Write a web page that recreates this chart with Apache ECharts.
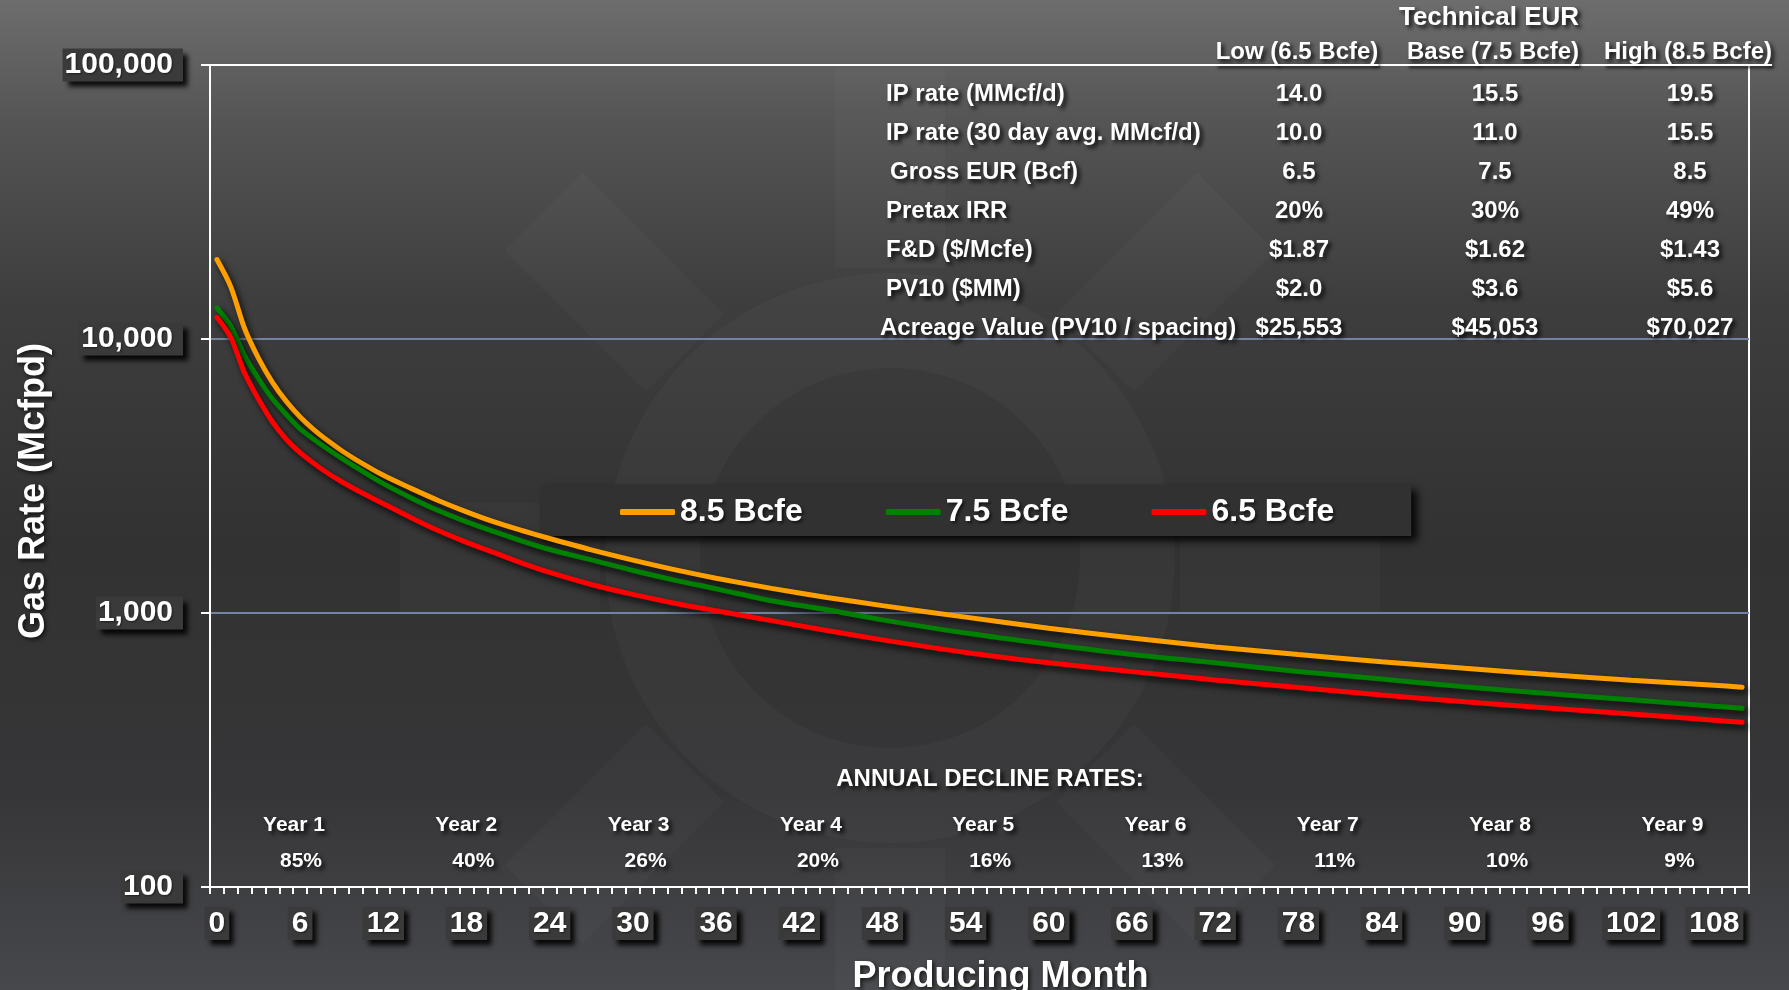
<!DOCTYPE html>
<html>
<head>
<meta charset="utf-8">
<script src="https://cdn.jsdelivr.net/npm/echarts@6/dist/echarts.min.js"></script>
<style>
  html, body { margin: 0; padding: 0; background: #3a3a3a; }
  #chart { width: 1789px; height: 990px; }
</style>
</head>
<body>
<div id="chart"></div>
<script>
// months
const sampleMonths = [0, 1, 2, 3, 4, 5, 6, 7, 8, 9, 10, 12, 14, 16, 18, 20, 22, 24, 27, 30, 33, 36,
  40, 44, 48, 54, 60, 66, 72, 78, 84, 90, 96, 102, 108, 110]

// gas rate, Mcfpd
const high85 = [19500, 15500, 10900, 8500, 6950, 5920, 5190, 4660, 4250, 3910, 3630, 3180, 2850, 2570, 2340,
  2150, 2000, 1870, 1700, 1560, 1440, 1340, 1230, 1140, 1064, 966, 879, 811, 752, 705, 664, 628, 596, 568, 545, 536]
const base75 = [13000, 11140, 8670, 7160, 6050, 5300, 4700, 4300, 3960, 3670, 3410, 2965, 2630, 2360, 2150,
  1980, 1830, 1705, 1563, 1429, 1318, 1225, 1109, 1028, 944, 845, 769, 706, 658, 612, 574, 538, 508, 482, 457, 449]
const low65 = [12000, 10120, 7500, 6030, 4990, 4305, 3846, 3510, 3236, 3013, 2825, 2506, 2228, 1995, 1811,
  1660, 1521, 1406, 1271, 1169, 1086, 1019, 938, 863, 798, 718, 658, 611, 570, 535, 502, 474, 450, 428, 406, 399]

const seriesNames = ['8.5 Bcfe', '7.5 Bcfe', '6.5 Bcfe']
const seriesColors = ['#ffa000', '#008000', '#ff0000']

// table in the upper right
const caseTitle = 'Technical EUR'
const caseHeaders = ['Low (6.5 Bcfe)', 'Base (7.5 Bcfe)', 'High (8.5 Bcfe)']
const tableRowLabels = ['IP rate (MMcf/d)', 'IP rate (30 day avg. MMcf/d)', 'Gross EUR (Bcf)', 'Pretax IRR',
  'F&D ($/Mcfe)', 'PV10 ($MM)', 'Acreage Value (PV10 / spacing)']
const lowCase = ['14.0', '10.0', '6.5', '20%', '$1.87', '$2.0', '$25,553']
const baseCase = ['15.5', '11.0', '7.5', '30%', '$1.62', '$3.6', '$45,053']
const highCase = ['19.5', '15.5', '8.5', '49%', '$1.43', '$5.6', '$70,027']

// annual decline rates along the bottom
const declineTitle = 'ANNUAL DECLINE RATES:'
const declineYears = ['Year 1', 'Year 2', 'Year 3', 'Year 4', 'Year 5', 'Year 6', 'Year 7', 'Year 8', 'Year 9']
const declineRates = ['85%', '40%', '26%', '20%', '16%', '13%', '11%', '10%', '9%']

const monthCount = 111
const months = Array.from({ length: monthCount }, (_, i) => String(i))

const font = '"Liberation Sans", Arial, Helvetica, sans-serif'

const chart = echarts.init(document.getElementById('chart'))

// helper to measure text for the header underlines
const measureCtx = document.createElement('canvas').getContext('2d')
const textWidth = (txt, f) => { measureCtx.font = f; return measureCtx.measureText(txt).width }

const txtShadow = {
  textShadowColor: 'rgba(0,0,0,0.85)',
  textShadowBlur: 4,
  textShadowOffsetX: 3,
  textShadowOffsetY: 3
}

const makeText = (text, x, y, size, align) => ({
  type: 'text',
  z: 50,
  style: {
    text, x, y,
    fill: '#fff',
    font: `bold ${size}px ${font}`,
    textAlign: align || 'center',
    align: align || 'center',
    textVerticalAlign: 'middle',
    verticalAlign: 'middle',
    ...txtShadow
  }
})

const graphics = []

// faint watermark logo behind the plot
const wmCx = 890, wmCy = 558
graphics.push({
  type: 'ring', z: -10, silent: true,
  shape: { cx: wmCx, cy: wmCy, r: 285, r0: 190 },
  style: { fill: 'rgba(255,255,255,0.028)' }
})
for (let k = 0; k < 8; k++) {
  graphics.push({
    type: 'rect', z: -10, silent: true,
    x: wmCx, y: wmCy, rotation: k * Math.PI / 4,
    shape: { x: 290, y: -55, width: 200, height: 110 },
    style: { fill: 'rgba(255,255,255,0.025)' }
  })
}

// table
const colX = [1299, 1495, 1690]
const rowY0 = 94, rowStep = 39
const labelX = [886, 886, 890, 886, 886, 886, 880]
graphics.push(makeText(caseTitle, 1489, 18, 26))
caseHeaders.forEach((h, i) => {
  graphics.push(makeText(h, colX[i] - 2, 52, 24))
  const w = textWidth(h, `bold 24px ${font}`)
  graphics.push({
    type: 'line', z: 50,
    shape: { x1: colX[i] - 2 - w / 2, y1: 65, x2: colX[i] - 2 + w / 2, y2: 65 },
    style: { stroke: '#fff', lineWidth: 2, shadowColor: 'rgba(0,0,0,0.8)', shadowBlur: 3, shadowOffsetX: 2, shadowOffsetY: 2 }
  })
})
tableRowLabels.forEach((lab, r) => {
  const y = rowY0 + r * rowStep
  graphics.push(makeText(lab, labelX[r], y, 24, 'left'))
  ;[lowCase, baseCase, highCase].forEach((col, c) => {
    graphics.push(makeText(col[r], colX[c], y, 24))
  })
})

// decline rates
graphics.push(makeText(declineTitle, 990, 779, 24))
declineYears.forEach((yr, i) => {
  const x = 294 + i * 172.3
  graphics.push(makeText(yr, x, 825, 21))
  graphics.push(makeText(declineRates[i], x + 7, 861, 21))
})

const labelBox = {
  color: '#fff',
  fontFamily: font,
  fontWeight: 'bold',
  fontSize: 30,
  backgroundColor: '#3a3a3a',
  shadowColor: 'rgba(0,0,0,0.9)',
  shadowBlur: 5,
  shadowOffsetX: 5,
  shadowOffsetY: 5,
  textShadowColor: 'rgba(0,0,0,0.5)',
  textShadowBlur: 2,
  textShadowOffsetX: 1,
  textShadowOffsetY: 1
}

const titleStyle = {
  color: '#fff',
  fontFamily: font,
  fontWeight: 'bold',
  fontSize: 36,
  textShadowColor: 'rgba(0,0,0,0.7)',
  textShadowBlur: 4,
  textShadowOffsetX: 2,
  textShadowOffsetY: 2
}

// series sit on a hidden value axis aligned with the category centres
const lineSeries = [high85, base75, low65].map((vals, i) => ({
  name: seriesNames[i],
  type: 'line',
  xAxisIndex: 1,
  data: sampleMonths.map((m, k) => [m, vals[k]]),
  smooth: 0.3,
  symbol: 'none',
  lineStyle: {
    color: seriesColors[i],
    width: 5,
    cap: 'round',
    shadowColor: 'rgba(0,0,0,0.85)',
    shadowBlur: 6,
    shadowOffsetX: 3,
    shadowOffsetY: 4
  },
  itemStyle: { color: seriesColors[i] },
  z: 5
}))

const option = {
  animation: false,
  backgroundColor: {
    type: 'linear', x: 0, y: 0, x2: 0, y2: 1,
    colorStops: [
      { offset: 0, color: '#6d6d6d' },
      { offset: 0.12, color: '#555555' },
      { offset: 0.3, color: '#3e3e3e' },
      { offset: 0.55, color: '#323232' },
      { offset: 0.8, color: '#363638' },
      { offset: 1, color: '#47484c' }
    ]
  },
  textStyle: { fontFamily: font },
  grid: {
    left: 210,
    right: 40,
    top: 65,
    bottom: 103,
    show: true,
    borderColor: '#fff',
    borderWidth: 2,
    backgroundColor: 'transparent',
    containLabel: false,
    outerBoundsMode: 'none'
  },
  legend: {
    data: seriesNames,
    left: 540,
    top: 485,
    padding: [11, 77, 8, 80],
    itemWidth: 55,
    itemHeight: 6,
    itemGap: 83,
    icon: 'roundRect',
    backgroundColor: '#313131',
    shadowColor: 'rgba(0,0,0,0.9)',
    shadowBlur: 8,
    shadowOffsetX: 6,
    shadowOffsetY: 5,
    textStyle: {
      color: '#fff', fontFamily: font, fontWeight: 'bold', fontSize: 32,
      textShadowColor: 'rgba(0,0,0,0.6)', textShadowBlur: 3, textShadowOffsetX: 2, textShadowOffsetY: 2
    }
  },
  xAxis: [
    {
      type: 'category',
      data: months,
      boundaryGap: true,
      name: 'Producing Month',
      nameLocation: 'middle',
      nameGap: 72,
      nameTextStyle: { ...titleStyle, padding: [0, 0, 0, 42] },
      axisLine: { show: true, onZero: false, lineStyle: { color: '#fff', width: 2 } },
      axisTick: { show: true, interval: 0, length: 7, lineStyle: { color: '#fff', width: 2 } },
      axisLabel: { ...labelBox, interval: 5, margin: 20, padding: [2, 4, 1, 4] },
      splitLine: { show: false }
    },
    {
      type: 'value',
      min: -0.5,
      max: monthCount - 0.5,
      show: false,
      axisLine: { onZero: false }
    }
  ],
  yAxis: {
    type: 'log',
    logBase: 10,
    min: 100,
    max: 100000,
    name: 'Gas Rate (Mcfpd)',
    nameLocation: 'middle',
    nameGap: 158,
    nameTextStyle: { ...titleStyle, padding: [0, 30, 0, 0] },
    axisLine: { show: true, onZero: false, lineStyle: { color: '#fff', width: 2 } },
    axisTick: { show: true, length: 9, lineStyle: { color: '#fff', width: 2 } },
    axisLabel: {
      ...labelBox,
      margin: 27,
      padding: [2, 10, 1, 2],
      formatter: v => Number(v).toLocaleString('en-US')
    },
    splitLine: { show: true, lineStyle: { color: ['#ffffff', '#7384a3', '#7384a3', '#ffffff'], width: 2 } }
  },
  graphic: graphics,
  series: lineSeries
}

chart.setOption(option)
</script>
</body>
</html>
